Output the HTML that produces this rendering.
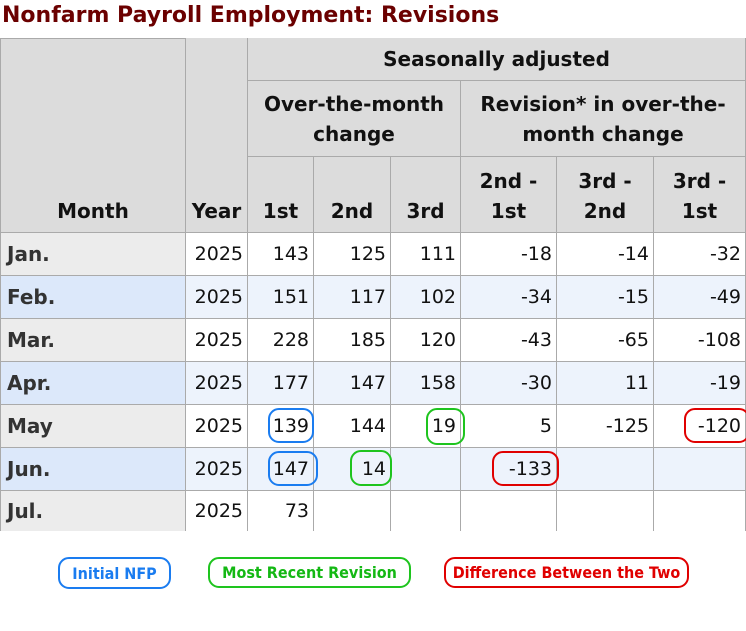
<!DOCTYPE html>
<html><head><meta charset="utf-8"><style>
body{margin:0;width:746px;height:631px;background:#fff;position:relative;overflow:hidden;font-family:"DejaVu Sans","Liberation Sans",sans-serif}
.t{position:absolute;left:2px;top:3px;font-weight:bold;font-size:22px;color:#6b0000;white-space:nowrap}
.c{position:absolute;box-sizing:border-box;border-right:1px solid #aaa;border-bottom:1px solid #aaa;font-size:19px;color:#111;display:flex;align-items:center}
.h{background:#dcdcdc;font-weight:bold;justify-content:center;text-align:center;line-height:30px;font-size:20px}
.n{justify-content:flex-end;padding-right:4px}
.m{font-weight:bold;padding-left:6px;color:#333;font-size:20px}
.o{position:absolute;box-sizing:border-box;border:2px solid;border-radius:11px}
.lg{position:absolute;box-sizing:border-box;border:2px solid;border-radius:11px;font-weight:bold;font-size:16px;font-family:"DejaVu Sans Condensed","DejaVu Sans",sans-serif;display:flex;align-items:center;justify-content:center}
</style></head><body>
<div class="t">Nonfarm Payroll Employment: Revisions</div>
<div id="tbl"></div>
<script>
const months=["Jan.","Feb.","Mar.","Apr.","May","Jun.","Jul."];
const years=["2025","2025","2025","2025","2025","2025","2025"];
const first=[143,151,228,177,139,147,73];
const second=[125,117,185,147,144,14,null];
const third=[111,102,120,158,19,null,null];
const rev21=[-18,-34,-43,-30,5,-133,null];
const rev32=[-14,-15,-65,11,-125,null,null];
const rev31=[-32,-49,-108,-19,-120,null,null];
const X=[0,186,248,314,391,461,557,654,746];
const RY=[233,276,319,362,405,448,491,531];
const tbl=document.getElementById('tbl');
function cell(x1,y1,x2,y2,cls,html,bg,name){
  const d=document.createElement('div');
  d.className='c '+cls;
  d.style.left=x1+'px';d.style.top=y1+'px';d.style.width=(x2-x1)+'px';d.style.height=(y2-y1)+'px';
  if(bg)d.style.background=bg;
  d.innerHTML=html;
  
  
  tbl.appendChild(d);return d;
}
function hc(x1,y1,x2,y2,html,name,valign){const d=cell(x1,y1,x2,y2,'h',html,null,name);if(valign)d.style.alignItems='flex-end',d.style.paddingBottom='6px';return d;}
hc(0,38,186,233,'Month','header-month',1).style.borderLeft='1px solid #aaa';
hc(186,38,248,233,'Year','header-year',1);
hc(248,38,746,81,'Seasonally adjusted','header-seasonally-adjusted');
hc(248,81,461,157,'Over-the-month<br>change','header-over-the-month');
hc(461,81,746,157,'Revision* in over-the-<br>month change','header-revision');
hc(248,157,314,233,'1st','header-1st',1);
hc(314,157,391,233,'2nd','header-2nd',1);
hc(391,157,461,233,'3rd','header-3rd',1);
hc(461,157,557,233,'2nd -<br>1st','header-2nd-1st',1);
hc(557,157,654,233,'3rd -<br>2nd','header-3rd-2nd',1);
hc(654,157,746,233,'3rd -<br>1st','header-3rd-1st',1);
tbl.firstChild.style.borderTop='1px solid #aaa';
for(let i=0;i<months.length;i++){
  const alt=i%2==1, y1=RY[i], y2=RY[i+1];
  const mb=alt?'#dce8fa':'#ececec', db=alt?'#edf3fc':'#fff';
  const last=i==months.length-1;
  const m=cell(0,y1,186,y2,'m',months[i],mb,'month-label');m.style.borderLeft='1px solid #aaa';if(last)m.style.borderBottom='none';
  const vals=[years[i],first[i],second[i],third[i],rev21[i],rev32[i],rev31[i]];
  const nm=['year','first-estimate','second-estimate','third-estimate','revision-2nd-1st','revision-3rd-2nd','revision-3rd-1st'];
  for(let j=0;j<7;j++){const d=cell(X[j+1],y1,X[j+2],y2,'n',vals[j]==null?'':String(vals[j]),db,nm[j]+'-cell');if(last)d.style.borderBottom='none';}
}
function oval(x1,y1,x2,y2,col,name){
  const o=document.createElement('div');o.className='o';
  o.style.left=x1+'px';o.style.top=y1+'px';o.style.width=(x2-x1)+'px';o.style.height=(y2-y1)+'px';o.style.borderColor=col;
  
  
  tbl.appendChild(o);
}
oval(268,408,314,443,'#1a7cf0','highlight-initial-may');
oval(268,451,318,486,'#1a7cf0','highlight-initial-jun');
oval(426,408,465,445,'#1ec41e','highlight-recent-may');
oval(350,450,392,486,'#1ec41e','highlight-recent-jun');
oval(684,408,750,443,'#e00000','highlight-diff-may');
oval(492,451,559,486,'#e00000','highlight-diff-jun');
</script>
<div class="lg" style="left:58px;top:557px;width:113px;height:32px;border-color:#1a7cf0;color:#1a7cf0">Initial NFP</div>
<div class="lg" style="left:208px;top:557px;width:203px;height:31px;border-color:#1ec41e;color:#14b814">Most Recent Revision</div>
<div class="lg" style="left:444px;top:557px;width:245px;height:31px;border-color:#e00000;color:#e00000">Difference Between the Two</div>
</body></html>
